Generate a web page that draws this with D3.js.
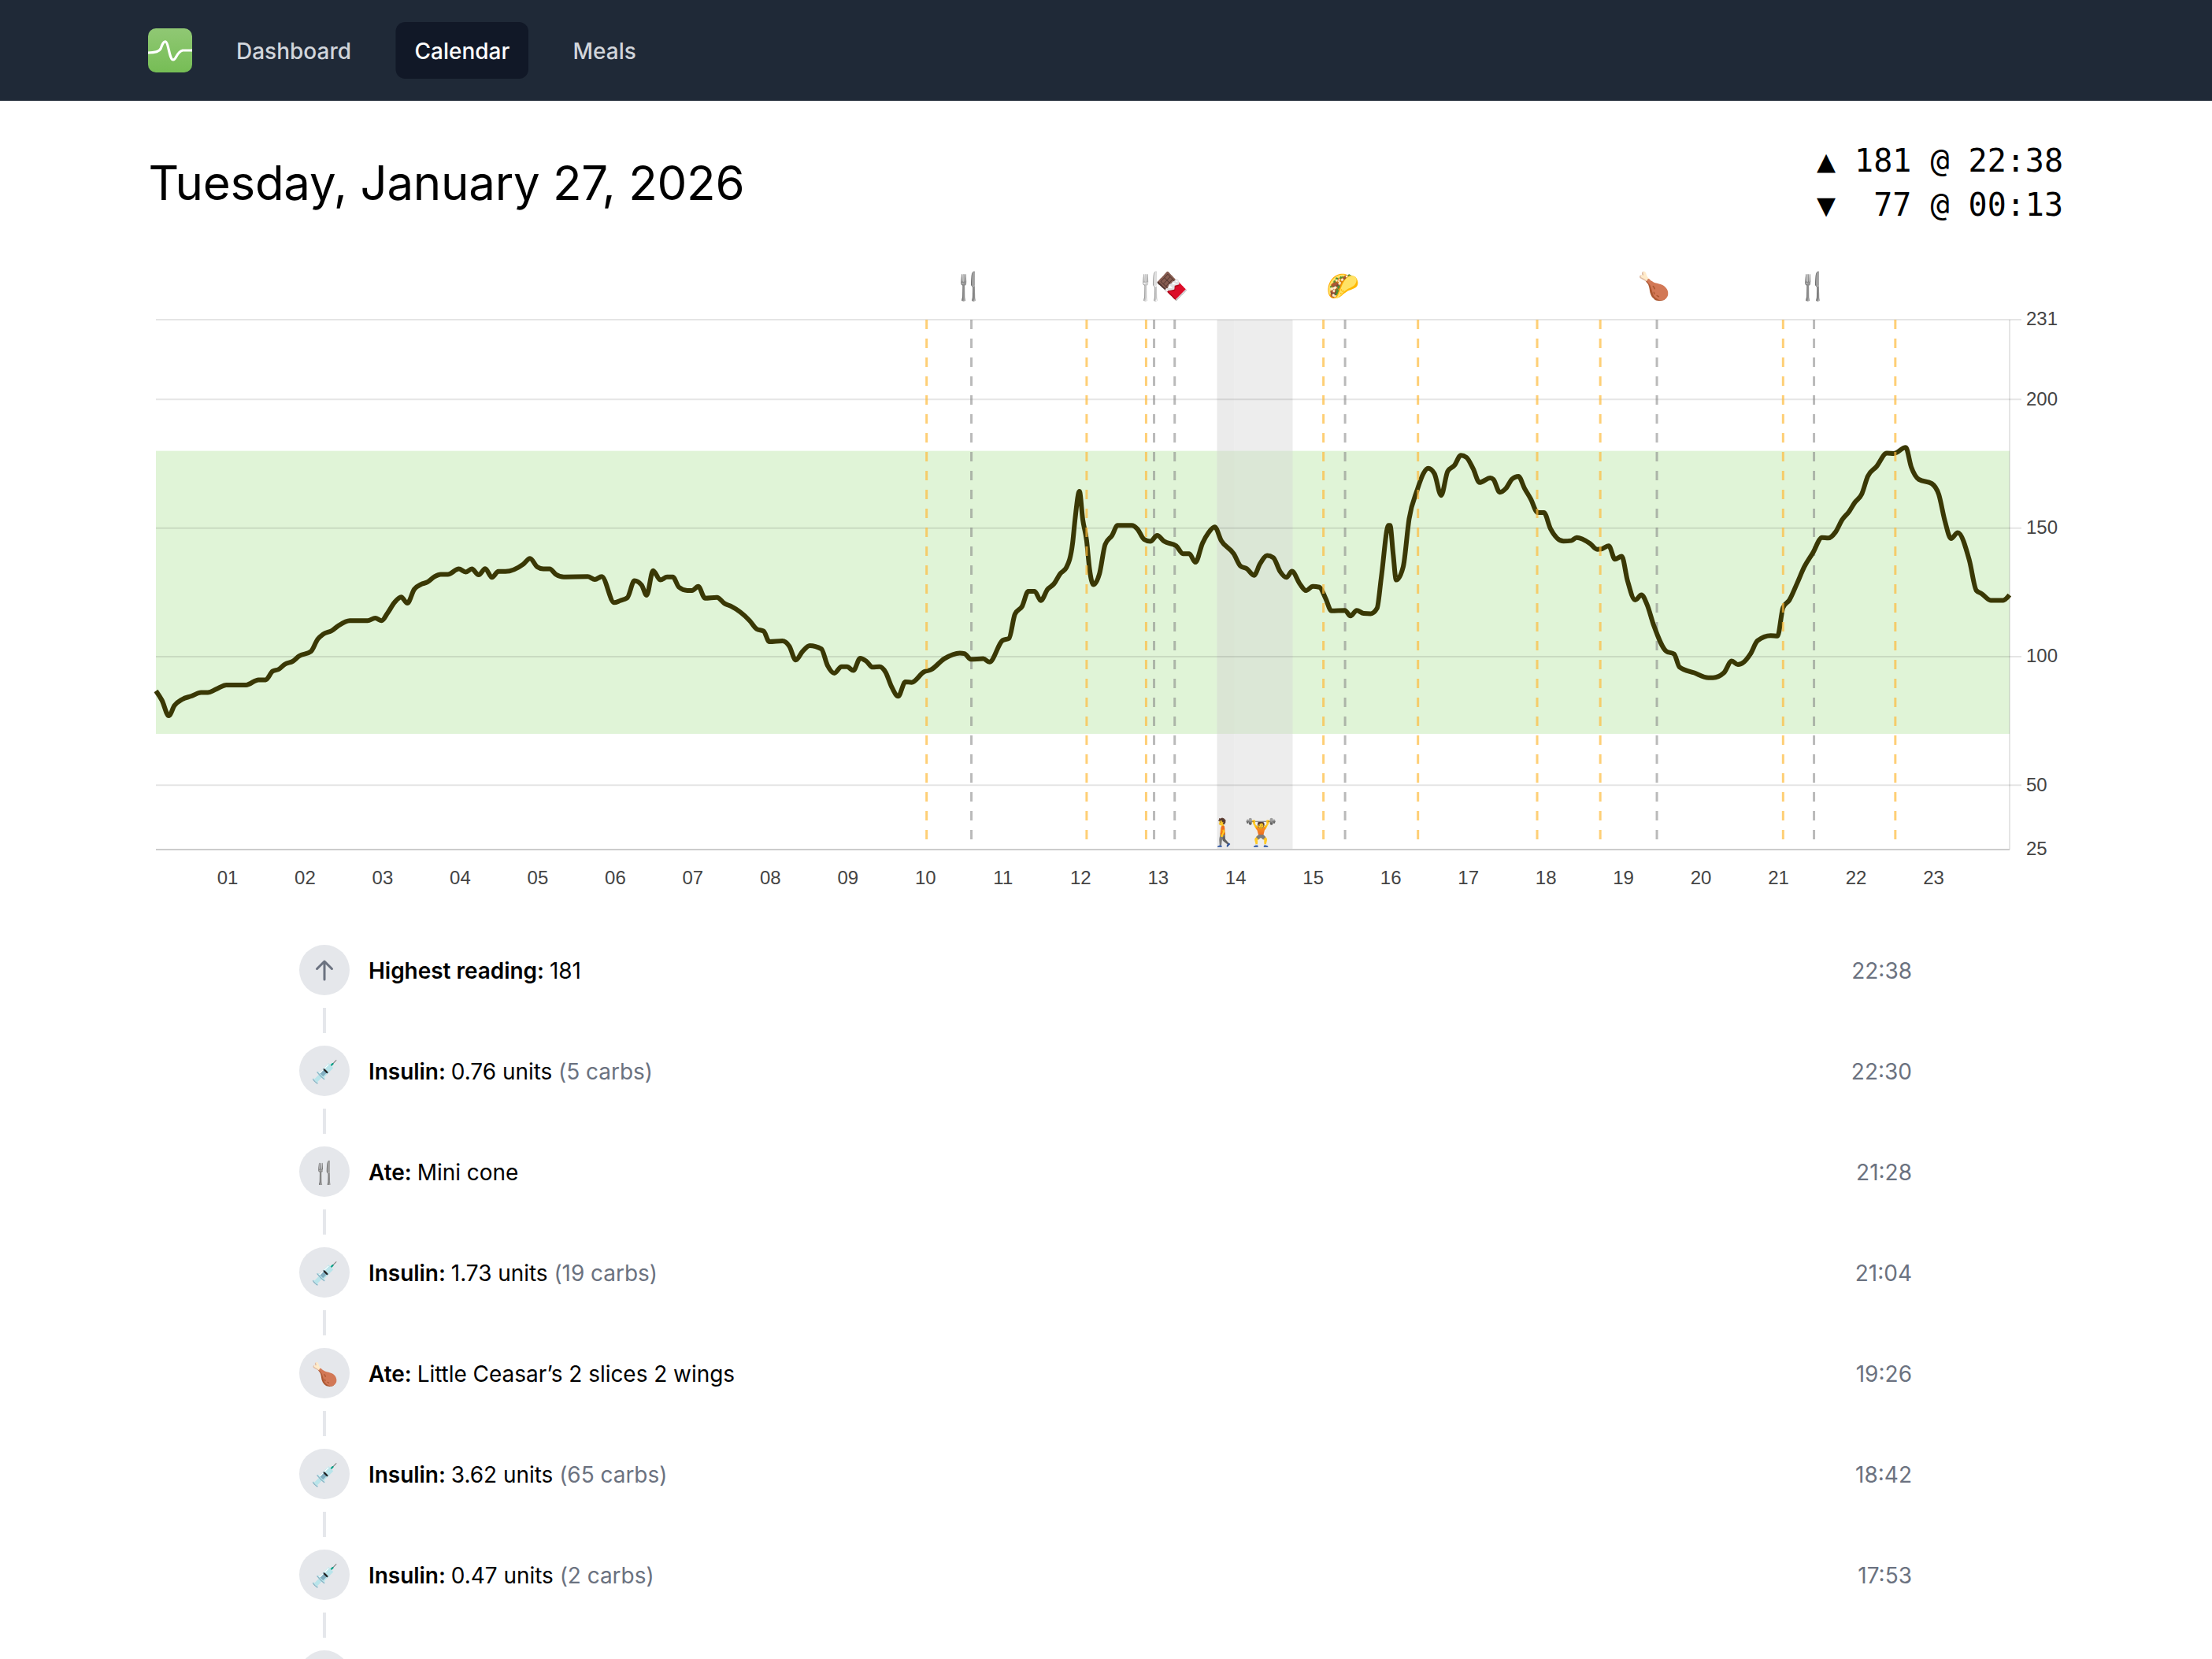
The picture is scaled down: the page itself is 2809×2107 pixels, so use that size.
<!DOCTYPE html>
<html>
<head>
<meta charset="utf-8">
<title>Calendar</title>
<script src="https://cdn.jsdelivr.net/npm/d3@7"></script>
<style>
  html, body { margin: 0; padding: 0; background: #fff; overflow: hidden; }
  svg { display: block; font-family: Inter, sans-serif; }
</style>
</head>
<body>
<svg id="page" width="2809" height="2107"></svg>
<script>
// glucose trace: minutes after midnight / mg/dL
const readingMinutes = [0,4.7,10,14.4,20.4,27.7,35,40.3,47,54.8,70,79.7,85.3,90.6,95.4,100.3,106.3,111.2,120.4,125.7,129.8,136.6,141.9,150.6,164.4,170.4,175.3,180,185.4,190.5,195.3,200.7,206,211,216.4,221.2,226.8,235.3,240.6,245.4,250.7,255.8,261.1,266,271.5,285.3,290.6,296.2,301,305.9,310.7,316.8,335.4,341,346.3,356,360.8,366.2,371.7,377.3,381.2,386.2,391.8,397.1,401.5,406.3,412.8,416.5,421.3,426.6,435.8,441.9,446.7,461.2,466.8,472.1,476.5,486.6,492,497,502.3,507.9,516.9,521.7,527,532.6,536.9,541.8,547.1,551.9,556.8,562.1,566.9,571.3,576.6,582.2,587,596.7,602,612.4,624.5,628.1,633,642.7,647.5,657.7,662.7,667.3,672.9,677.7,682.6,687.4,692.7,697.6,702.6,707.3,712.1,714,717.4,720,723,725.3,728.2,733,737.4,742.7,747,758,762.3,767.6,772.5,777.8,783.3,792.5,797.9,802.7,807.5,813,817.7,822.5,827.6,837.3,842.6,847.4,853,857.8,863.2,868,873.3,878.2,882.5,888.6,893.4,898.7,903.8,908.6,913.2,923.6,928,932.8,938.2,943.7,948.6,951.9,957.5,958.7,961.1,963.5,968.9,973.5,979.8,984.6,988.3,993.1,998.4,1003.5,1008.8,1013.7,1018,1023.3,1028.2,1036.6,1039,1043.9,1048.7,1053.6,1058.4,1063.2,1068,1073.4,1078.2,1083.3,1093.5,1099.5,1103.7,1114,1119.6,1123.7,1128.6,1133.4,1138.7,1143.1,1149.1,1154,1158.3,1163.6,1173.3,1179.4,1183.5,1195.1,1206,1209.6,1218,1224.1,1228.9,1233.8,1238.6,1244.2,1254.4,1259.7,1264,1268.9,1274.9,1280.5,1287,1294.3,1299.1,1304.7,1310,1315.3,1319.7,1325.2,1329.8,1336.6,1344.6,1350,1359.3,1363.6,1369.5,1379.5,1385,1389.7,1394.5,1399.7,1408.7,1414.2,1418.2,1425.4,1434.9,1439.9]
const readingValues = [86.7,83,77,81,83.4,84.7,86.1,86.1,87.4,89,89,91,91,94.3,95.1,97.1,98.2,100.2,102,106.8,108.7,110.1,112.1,114,114,115,114,117,121.1,123.2,120.8,126.2,128.1,129,131.1,132,132,134.1,132.9,134.1,131.8,134.2,130.8,133.1,133.1,135.9,138.2,134.9,134.1,134.1,132,131,131.1,130,131.1,121,121.8,122.9,129.5,127.8,123.9,133.4,129.8,131,131,127,125.7,125.7,127.3,122.7,123,120.6,119.6,114,110.7,109.9,105.8,106.1,104.1,98.7,102,104.3,103,96.6,93.6,96.1,96.1,94.6,99.4,98.2,95.9,96.1,93.9,88.5,84.6,90.2,90,94.1,94.9,99.2,101.4,101.2,99,99.2,97.9,106.3,107.1,116.5,119.6,125.4,125.4,121.8,126.2,128.3,132.3,134.7,144.1,153.3,164.3,153.3,145.1,133.9,128,132.3,143.6,147.1,151,151,149.7,145.6,144.8,147.1,144.8,143.1,140,140,136.7,144.1,148.2,150.4,145.1,140,135.2,134.2,131.6,136.2,139.3,138.5,133.1,130.8,133.2,128.3,125.7,127.3,127,122.7,117.8,118,115.8,118,116.8,116.7,118.8,130.8,151,151,140,129.8,134.9,153.5,164.8,171.2,173.2,171.2,162.7,172.1,174.4,178.3,177.5,173,167.7,169.5,168.9,163.9,165.4,169.1,170.1,165.4,161.3,156,156,149.8,144.9,145.1,146.3,144,141.7,142,143.1,137.9,139,129.7,122,124,120.3,112.1,102.1,101,96,93.7,91.8,91.8,93.7,98.3,96.9,98,101,106.2,108.2,108,119.1,122,128.5,134.9,140.2,146.3,146.1,148.4,153.3,156.4,159.9,163.3,170.1,173.9,179.1,179,181.3,173.7,168.9,167.3,163,152.8,145.9,148.2,137.5,125.7,124.5,121.9,121.9,124]

const yTicks = [25, 50, 100, 150, 200, 231]
const hourLabels = d3.range(1, 24)
const targetRange = [70, 180]

// event times in hours
const insulinHours = [9.978, 12.05, 12.82, 15.116, 16.34, 17.883, 18.7, 21.067, 22.52]
const mealHours = [10.558, 12.923, 13.19, 15.396, 19.433, 21.467]
const activityStart = [13.738, 13.963]
const activityEnd = [13.963, 14.717]

// icons along the top and bottom of the chart (hour of the icon centre)
const topIconHours = [10.52, 12.938, 15.36, 19.39, 21.45]
const topIconGlyphs = ['🍴', '🍴🍫', '🌮', '🍗', '🍴']
const bottomIconHours = [13.83, 14.3]
const bottomIconGlyphs = ['🚶', '🏋️']

// timeline
const rowLabels = ['Highest reading:', 'Insulin:', 'Ate:', 'Insulin:', 'Ate:', 'Insulin:', 'Insulin:']
const rowTexts = ['181', '0.76 units', 'Mini cone', '1.73 units', 'Little Ceasar’s 2 slices 2 wings', '3.62 units', '0.47 units']
const rowNotes = ['', '(5 carbs)', '', '(19 carbs)', '', '(65 carbs)', '(2 carbs)']
const rowTimes = ['22:38', '22:30', '21:28', '21:04', '19:26', '18:42', '17:53']
const rowIcons = ['', '💉', '🍴', '💉', '🍗', '💉', '💉']

const navLabels = ['Dashboard', 'Calendar', 'Meals']
const navX = [300, 526.5, 727.5]

const svg = d3.select('#page')

// ---- nav bar
svg.append('rect').attr('width', 2809).attr('height', 128).attr('fill', '#1f2937')

const defs = svg.append('defs')
const logoGrad = defs.append('linearGradient').attr('id', 'logoGrad')
  .attr('x1', 0).attr('x2', 0).attr('y1', 0).attr('y2', 1)
logoGrad.append('stop').attr('offset', 0).attr('stop-color', '#90c874')
logoGrad.append('stop').attr('offset', 1).attr('stop-color', '#76bd55')

svg.append('rect').attr('x', 188).attr('y', 36).attr('width', 56).attr('height', 56)
  .attr('rx', 10).attr('fill', 'url(#logoGrad)')
svg.append('path')
  .attr('d', 'M188,67 C196,67 202,66 204,62 C206,56 208,52 210.5,53 C214,54 215,76 220,76 C224,76 224,66 232,64 L244,64')
  .attr('fill', 'none').attr('stroke', '#fff').attr('stroke-width', 3.2)

svg.append('rect').attr('x', 502.5).attr('y', 28).attr('width', 168.5).attr('height', 72)
  .attr('rx', 12).attr('fill', '#111827')

svg.selectAll('.nav').data(navLabels).enter().append('text')
  .attr('class', 'nav')
  .attr('x', (d, i) => navX[i])
  .attr('y', 75)
  .attr('font-size', 28)
  .attr('font-weight', 500)
  .attr('fill', (d, i) => i === 1 ? '#fff' : '#d1d5db')
  .text(d => d)

// ---- heading
svg.append('text').attr('x', 188.5).attr('y', 254)
  .attr('font-size', 60).attr('fill', '#000')
  .attr('letter-spacing', -0.26)
  .text('Tuesday, January 27, 2026')

svg.selectAll('.stat').data(['▲ 181 @ 22:38', '▼  77 @ 00:13']).enter().append('text')
  .attr('class', 'stat')
  .attr('x', 2620)
  .attr('y', (d, i) => 218 + i * 56)
  .attr('text-anchor', 'end')
  .attr('font-size', 40)
  .attr('fill', '#000')
  .style('font-family', '"DejaVu Sans Mono", monospace')
  .style('white-space', 'pre')
  .text(d => d)

// ---- chart
const plotLeft = 198, plotRight = 2552, plotTop = 406, plotBottom = 1079

const x = d3.scaleLinear().domain([0, 24]).range([plotLeft, plotRight])
const y = d3.scaleLinear().domain([25, 231]).range([plotBottom, plotTop])
// hour labels sit on a slightly wider spread than the plot itself
const xLabels = d3.scaleLinear().domain([0, 24]).range([190, 2553.5])

const chart = svg.append('g')

chart.append('rect')
  .attr('x', plotLeft).attr('width', plotRight - plotLeft)
  .attr('y', y(targetRange[1])).attr('height', y(targetRange[0]) - y(targetRange[1]))
  .attr('fill', '#e0f4d7')

chart.selectAll('.activity').data(activityStart).enter().append('rect')
  .attr('class', 'activity')
  .attr('x', d => x(d))
  .attr('width', (d, i) => x(activityEnd[i]) - x(d))
  .attr('y', plotTop).attr('height', plotBottom - plotTop)
  .attr('fill', (d, i) => i === 0 ? 'rgba(210,210,210,0.44)' : 'rgba(212,212,212,0.42)')

chart.selectAll('.grid').data(yTicks.filter(d => d !== 25)).enter().append('line')
  .attr('class', 'grid')
  .attr('x1', plotLeft).attr('x2', plotRight + 15)
  .attr('y1', d => y(d)).attr('y2', d => y(d))
  .attr('stroke', 'rgba(0,0,0,0.1)').attr('stroke-width', 2)

chart.append('line')
  .attr('x1', plotRight).attr('x2', plotRight).attr('y1', plotTop).attr('y2', plotBottom)
  .attr('stroke', 'rgba(0,0,0,0.1)').attr('stroke-width', 2)

chart.selectAll('.meal').data(mealHours).enter().append('line')
  .attr('class', 'meal')
  .attr('x1', d => x(d)).attr('x2', d => x(d))
  .attr('y1', plotTop).attr('y2', plotBottom)
  .attr('stroke', 'rgba(130,130,130,0.55)').attr('stroke-width', 3)
  .attr('stroke-dasharray', '12,12')

const line = d3.line()
  .x((d, i) => x(readingMinutes[i] / 60))
  .y(d => y(d))
  .curve(d3.curveMonotoneX)

chart.append('path')
  .datum(readingValues)
  .attr('d', line)
  .attr('fill', 'none')
  .attr('stroke', '#3a3805')
  .attr('stroke-width', 6)
  .attr('stroke-linejoin', 'round')

chart.selectAll('.insulin').data(insulinHours).enter().append('line')
  .attr('class', 'insulin')
  .attr('x1', d => x(d)).attr('x2', d => x(d))
  .attr('y1', plotTop).attr('y2', plotBottom)
  .attr('stroke', 'rgba(253,186,60,0.7)').attr('stroke-width', 3)
  .attr('stroke-dasharray', '12,12')

chart.append('line')
  .attr('x1', plotLeft).attr('x2', plotRight)
  .attr('y1', plotBottom).attr('y2', plotBottom)
  .attr('stroke', '#ccc').attr('stroke-width', 2)

const yAxis = chart.append('g')
  .attr('transform', 'translate(' + plotRight + ',0)')
  .call(d3.axisRight(y).tickValues(yTicks).tickSize(15).tickPadding(6).tickFormat(d3.format('d')))
yAxis.select('.domain').remove()
yAxis.selectAll('line').attr('stroke', 'none')
yAxis.selectAll('text').attr('fill', '#444').attr('dy', '0.29em')
  .style('font-family', '"Liberation Sans", sans-serif').style('font-size', '24px')

const xAxis = chart.append('g')
  .attr('transform', 'translate(0,' + plotBottom + ')')
  .call(d3.axisBottom(xLabels).tickValues(hourLabels).tickSize(0).tickPadding(27).tickFormat(d3.format('02')))
xAxis.select('.domain').remove()
xAxis.selectAll('text').attr('fill', '#444')
  .style('font-family', '"Liberation Sans", sans-serif').style('font-size', '24px')

// the fork glyph of this font is paler than in the reference
const emojiTone = d => d.indexOf('🍴') === 0 ? 'brightness(0.72)' : null

chart.selectAll('.topIcon').data(topIconGlyphs).enter().append('text')
  .attr('class', 'topIcon')
  .attr('x', (d, i) => x(topIconHours[i]))
  .attr('y', 375).attr('text-anchor', 'middle').attr('font-size', 34)
  .attr('letter-spacing', d => d.length > 2 ? -15 : null)
  .style('filter', d => d.length > 2 ? null : emojiTone(d))
  .text(d => d)

chart.selectAll('.bottomIcon').data(bottomIconGlyphs).enter().append('text')
  .attr('class', 'bottomIcon')
  .attr('x', (d, i) => x(bottomIconHours[i]))
  .attr('y', 1068.5).attr('text-anchor', 'middle').attr('font-size', 34)
  .text(d => d)

// ---- timeline
const rowY = i => 1232 + i * 128

// seven rows plus the top of the next circle at the fold
svg.selectAll('.dot').data(d3.range(8)).enter().append('circle')
  .attr('class', 'dot')
  .attr('cx', 412).attr('cy', d => rowY(d)).attr('r', 32)
  .attr('fill', '#e5e7eb')

svg.selectAll('.rowIcon').data(rowIcons).enter().append('text')
  .attr('class', 'rowIcon')
  .attr('x', 412).attr('y', (d, i) => rowY(i) + 11)
  .attr('text-anchor', 'middle').attr('font-size', 28)
  .style('filter', emojiTone)
  .text(d => d)

svg.selectAll('.connector').data(rowLabels).enter().append('rect')
  .attr('class', 'connector')
  .attr('x', 410).attr('width', 4)
  .attr('y', (d, i) => rowY(i) + 48).attr('height', 32)
  .attr('fill', '#e5e7eb')

// arrow in the first circle
svg.append('path')
  .attr('d', 'M412,1244 V1221 M402.5,1230.5 L412,1221 L421.5,1230.5')
  .attr('fill', 'none').attr('stroke', '#6b7280').attr('stroke-width', 3)
  .attr('stroke-linecap', 'round').attr('stroke-linejoin', 'round')

const rowText = svg.selectAll('.rowText').data(rowLabels).enter().append('text')
  .attr('class', 'rowText')
  .attr('x', 468).attr('y', (d, i) => rowY(i) + 11)
  .attr('font-size', 28)
  .attr('letter-spacing', -0.04)
rowText.append('tspan').attr('font-weight', 600).attr('fill', '#000').text(d => d + ' ')
rowText.append('tspan').attr('fill', '#000').text((d, i) => rowTexts[i] + ' ')
rowText.append('tspan').attr('fill', '#6b7280').text((d, i) => rowNotes[i])

svg.selectAll('.rowTime').data(rowTimes).enter().append('text')
  .attr('class', 'rowTime')
  .attr('x', 2428).attr('y', (d, i) => rowY(i) + 11)
  .attr('text-anchor', 'end').attr('font-size', 28).attr('fill', '#6b7280')
  .text(d => d)
</script>
</body>
</html>
